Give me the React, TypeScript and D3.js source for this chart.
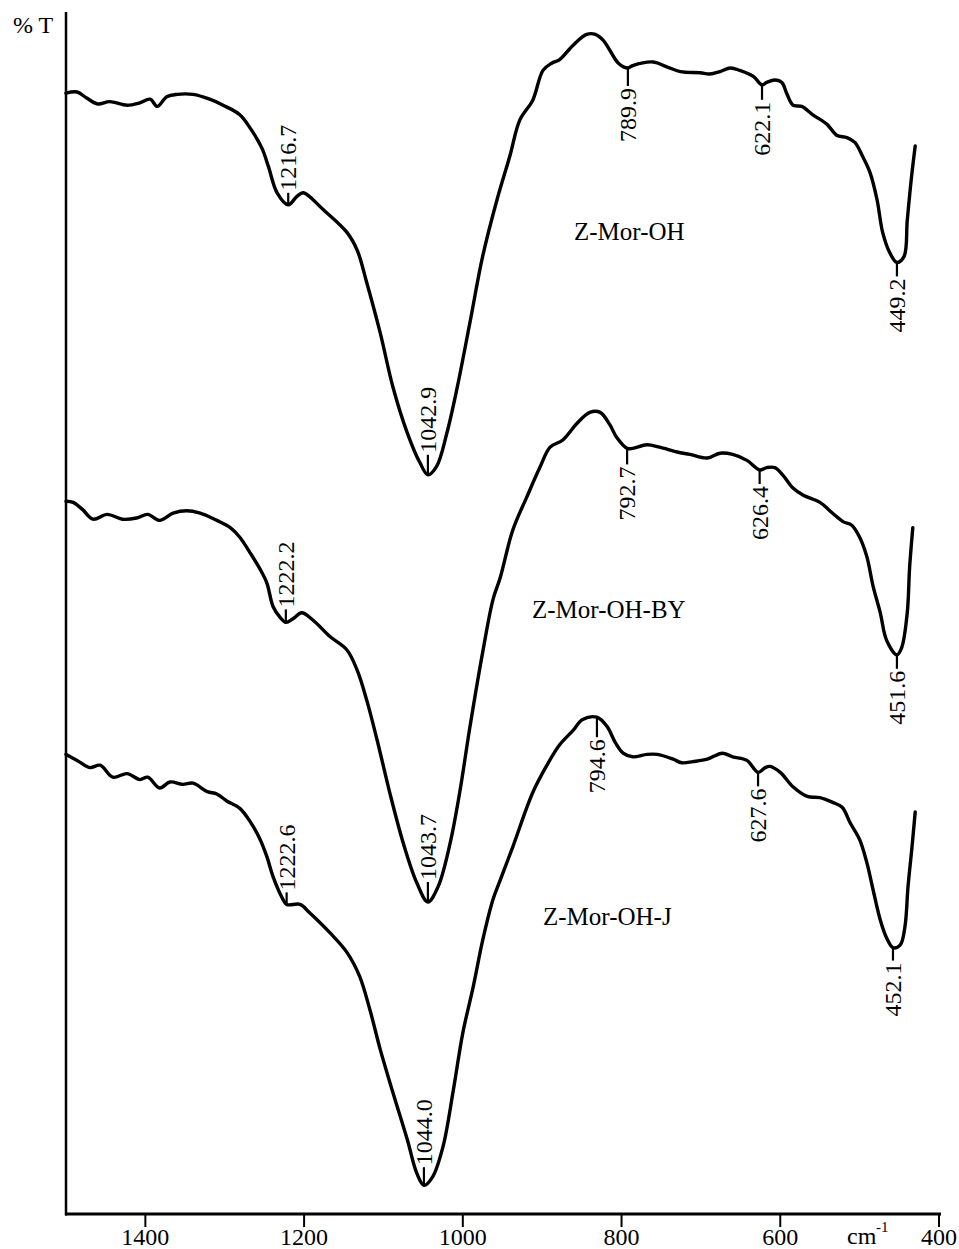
import React from "react";
import * as d3 from "d3";

// ---- Data (wavenumber cm-1, %T arbitrary offset units) ----
const zMorOH: [number, number][] = [
  [1500, 93.4], [1486, 93.5], [1474, 93.0], [1460, 92.5], [1445, 92.7], [1423, 92.4],
  [1407, 92.6], [1394, 92.9], [1385, 92.3], [1373, 93.1], [1360, 93.3], [1340, 93.3],
  [1319, 92.9], [1302, 92.4], [1281, 91.6], [1266, 90.3], [1253, 88.8], [1245, 87.3],
  [1234, 85.1], [1220, 84.1], [1209, 84.8], [1201, 85.1], [1176, 83.7], [1146, 81.8],
  [1133, 80.3], [1121, 77.6], [1104, 73.4], [1088, 68.9], [1070, 65.1], [1054, 62.6],
  [1044, 61.6], [1033, 62.3], [1020, 65.1], [1007, 68.9], [991, 74.3], [975, 79.8],
  [957, 84.5], [941, 88.1], [928, 91.2], [912, 92.8], [899, 95.3], [888, 95.9],
  [878, 96.2], [861, 97.4], [844, 98.3], [833, 98.3], [823, 97.8], [815, 97.0],
  [804, 95.9], [792, 95.5], [786, 95.7], [760, 96.0], [743, 95.6], [726, 95.2],
  [701, 95.1], [689, 95.0], [676, 95.2], [663, 95.5], [651, 95.3], [634, 94.8],
  [623, 94.1], [617, 94.3], [607, 94.5], [598, 94.3], [592, 93.4], [584, 92.4],
  [573, 92.3], [559, 91.6], [541, 90.8], [529, 89.9], [516, 89.7], [506, 89.3],
  [496, 88.1], [487, 86.8], [478, 84.5], [471, 81.8], [462, 80.1], [453, 79.3],
  [444, 79.8], [440, 82.8], [435, 86.2], [430, 89.0],
];

const zMorOHBY: [number, number][] = [
  [1500, 59.4], [1491, 59.3], [1479, 58.7], [1466, 57.9], [1448, 58.3], [1429, 57.9],
  [1411, 58.0], [1397, 58.3], [1382, 57.8], [1365, 58.4], [1348, 58.6], [1331, 58.4],
  [1310, 57.8], [1293, 57.2], [1281, 56.4], [1268, 55.1], [1256, 53.8], [1247, 52.6],
  [1239, 50.6], [1230, 49.7], [1223, 49.3], [1214, 49.6], [1203, 50.1], [1189, 49.5],
  [1167, 48.1], [1146, 47.0], [1133, 45.3], [1121, 42.8], [1108, 39.5], [1092, 35.1],
  [1075, 30.9], [1058, 27.6], [1044, 26.0], [1031, 27.3], [1016, 30.9], [1004, 35.1],
  [991, 40.6], [975, 46.8], [962, 51.2], [953, 53.0], [937, 57.0], [919, 59.8],
  [903, 62.2], [890, 63.9], [874, 64.5], [856, 65.9], [840, 66.8], [827, 66.8],
  [815, 65.8], [806, 64.7], [793, 63.8], [786, 63.8], [768, 64.1], [752, 63.9],
  [730, 63.5], [714, 63.3], [692, 63.0], [676, 63.4], [660, 63.3], [642, 62.8],
  [626, 62.0], [617, 62.2], [607, 62.2], [597, 61.6], [584, 60.5], [571, 59.9],
  [550, 59.3], [534, 58.4], [521, 57.7], [510, 57.4], [500, 56.4], [491, 54.8],
  [483, 52.3], [474, 50.1], [466, 47.8], [453, 46.6], [447, 47.2], [440, 50.1],
  [437, 53.9], [433, 57.2],
];

const zMorOHJ: [number, number][] = [
  [1500, 38.3], [1486, 37.8], [1470, 37.2], [1457, 37.4], [1441, 36.4], [1423, 36.7],
  [1407, 36.2], [1397, 36.4], [1382, 35.5], [1369, 36.0], [1353, 35.8], [1340, 35.9],
  [1322, 35.2], [1310, 35.0], [1297, 34.4], [1281, 33.8], [1268, 32.7], [1256, 31.3],
  [1247, 29.8], [1239, 28.1], [1228, 26.4], [1222, 25.8], [1205, 25.8], [1193, 25.1],
  [1167, 23.4], [1146, 21.8], [1130, 19.8], [1117, 17.0], [1104, 13.7], [1088, 10.1],
  [1070, 6.2], [1058, 3.4], [1049, 2.4], [1038, 3.1], [1025, 5.6], [1012, 10.3],
  [1000, 15.1], [987, 18.9], [975, 22.8], [962, 26.2], [953, 27.8], [937, 30.6],
  [912, 35.1], [894, 37.4], [878, 39.1], [861, 40.3], [849, 41.2], [831, 41.4],
  [818, 40.6], [808, 39.3], [798, 38.4], [786, 38.1], [768, 38.3], [755, 38.3],
  [735, 37.9], [724, 37.6], [710, 37.7], [692, 37.9], [673, 38.4], [660, 38.1],
  [642, 37.8], [628, 36.8], [619, 37.2], [613, 37.3], [600, 36.8], [584, 35.6],
  [566, 34.8], [550, 34.7], [534, 34.3], [522, 33.9], [512, 32.6], [500, 31.2],
  [491, 29.3], [483, 27.0], [474, 24.5], [466, 23.0], [458, 22.2], [449, 22.4],
  [443, 23.9], [439, 27.3], [434, 30.6], [430, 33.5],
];

const seriesNames = ["Z-Mor-OH", "Z-Mor-OH-BY", "Z-Mor-OH-J"];
const seriesData = [zMorOH, zMorOHBY, zMorOHJ];

// peak annotations: [position cm-1, label, direction]
type Peak = [number, string, "up" | "down"];
const peaksOH: Peak[] = [
  [1220, "1216.7", "up"], [1044, "1042.9", "up"], [792, "789.9", "down"],
  [623, "622.1", "down"], [453, "449.2", "down"],
];
const peaksBY: Peak[] = [
  [1223, "1222.2", "up"], [1044, "1043.7", "up"], [793, "792.7", "down"],
  [626, "626.4", "down"], [453, "451.6", "down"],
];
const peaksJ: Peak[] = [
  [1222, "1222.6", "up"], [1049, "1044.0", "up"], [831, "794.6", "down"],
  [628, "627.6", "down"], [458, "452.1", "down"],
];
const seriesPeaks = [peaksOH, peaksBY, peaksJ];

const xTicks = [1400, 1200, 1000, 800, 600, 400];

// ---- Layout ----
const W = 959;
const H = 1249;
const X0 = 66;
const X1 = 939;
const YB = 1214;
const YT = 14;
const FONT = "'Liberation Serif', 'Times New Roman', Times, serif";

const nameLayout = [
  { x: 574, y: 240 },
  { x: 532, y: 618 },
  { x: 543, y: 925 },
];
const tickLens = [
  [12, 20, 18, 15, 14],
  [13, 20, 16, 14, 14],
  [12, 18, 20, 14, 13],
];

function interp(data: [number, number][], w: number): number {
  for (let i = 0; i < data.length - 1; i++) {
    const [w0, v0] = data[i];
    const [w1, v1] = data[i + 1];
    if ((w <= w0 && w >= w1) || (w >= w0 && w <= w1)) {
      if (w0 === w1) return v0;
      return v0 + ((w - w0) / (w1 - w0)) * (v1 - v0);
    }
  }
  return data[data.length - 1][1];
}

export default function App() {
  const x = d3.scaleLinear().domain([1500, 400]).range([X0, X1]);
  const y = d3.scaleLinear().domain([0, 100]).range([YB, YT]);
  const line = d3
    .line<[number, number]>()
    .x((d) => x(d[0]))
    .y((d) => y(d[1]))
    .curve(d3.curveCatmullRom.alpha(0.5));

  return (
    <svg
      width={W}
      height={H}
      viewBox={`0 0 ${W} ${H}`}
      style={{ position: "absolute", left: 0, top: 0, background: "#fff" }}
      fontFamily={FONT}
    >
      <rect x={0} y={0} width={W} height={H} fill="#fff" />
      {/* axes */}
      <line x1={X0} y1={12} x2={X0} y2={YB + 1.5} stroke="#000" strokeWidth={2.5} />
      <line x1={X0 - 1} y1={YB} x2={X1 + 2} y2={YB} stroke="#000" strokeWidth={3} />
      {xTicks.map((t) => (
        <g key={t}>
          <line x1={x(t)} y1={YB} x2={x(t)} y2={YB + 13} stroke="#000" strokeWidth={2} />
          <text x={x(t)} y={1245} textAnchor="middle" fontSize={24} fill="#000">
            {t}
          </text>
        </g>
      ))}
      <text x={13} y={33} fontSize={24} fill="#000">% T</text>
      <text x={847} y={1244} fontSize={24} fill="#000">cm</text>
      <text x={876} y={1232} fontSize={15} fill="#000">-1</text>

      {seriesData.map((data, si) => (
        <g key={si}>
          <path d={line(data) || ""} fill="none" stroke="#000" strokeWidth={3.4} strokeLinejoin="round" strokeLinecap="round" />
          <text x={nameLayout[si].x} y={nameLayout[si].y} fontSize={25} fill="#000">
            {seriesNames[si]}
          </text>
          {seriesPeaks[si].map(([w, label, dir], pi) => {
            const px = x(w);
            const py = y(interp(data, w));
            const len = tickLens[si][pi];
            const sgn = dir === "up" ? -1 : 1;
            const ty = py + sgn * (len + 2);
            return (
              <g key={pi}>
                <line x1={px} y1={py} x2={px} y2={py + sgn * len} stroke="#000" strokeWidth={2.2} />
                <text
                  transform={`translate(${px},${ty}) rotate(-90)`}
                  textAnchor={dir === "up" ? "start" : "end"}
                  dy="0.34em"
                  fontSize={24}
                  fill="#000"
                >
                  {label}
                </text>
              </g>
            );
          })}
        </g>
      ))}
    </svg>
  );
}
